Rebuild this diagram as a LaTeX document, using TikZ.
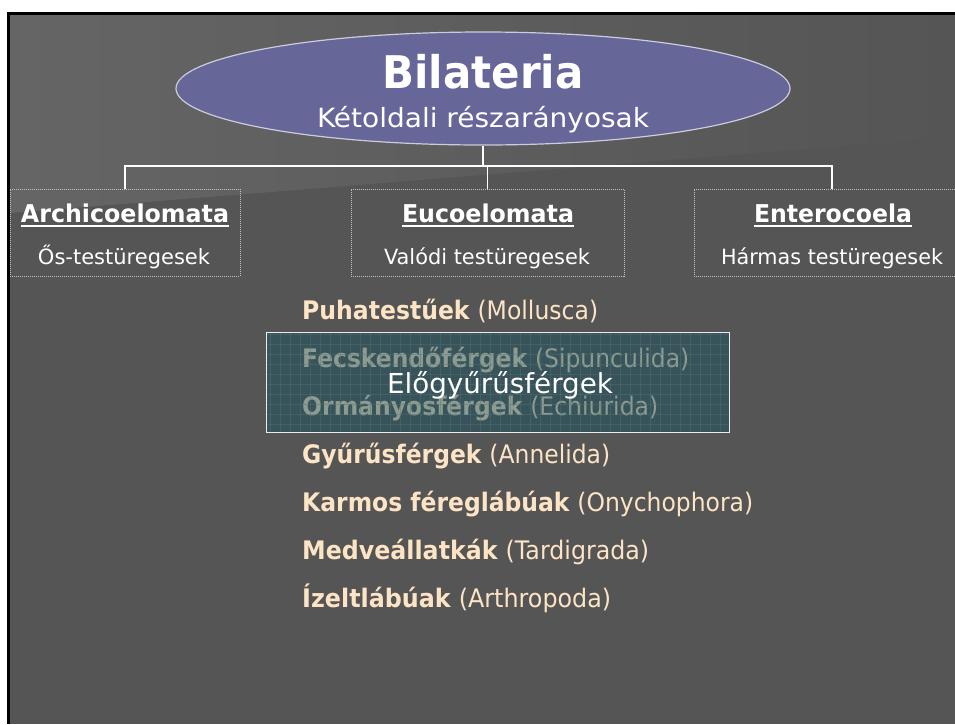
\documentclass[tikz,border=0pt]{standalone}
\usepackage{graphicx}
\usepackage{fontspec}
\setmainfont{DejaVu Sans}
\usetikzlibrary{shapes.geometric,patterns.meta}
\definecolor{bgc}{HTML}{555555}
\definecolor{wedge}{HTML}{656565}
\definecolor{ellfill}{HTML}{666699}
\definecolor{ellline}{HTML}{CCCCDD}
\definecolor{dotc}{HTML}{C4C4C4}
\definecolor{peach}{RGB}{252,228,196}
\definecolor{teal}{RGB}{31,83,95}
\definecolor{gridc}{RGB}{80,118,124}
\newcommand\fitw[2]{\resizebox{#1pt}{\height}{#2}}
\newcommand\myul[1]{\setbox0\hbox{#1}\rlap{\rule[-4.5pt]{\wd0}{2pt}}\box0}
\tikzset{
  conn/.style={draw=white,line width=1.3pt},
  grpbox/.style={draw=dotc,line width=0.9pt,dash pattern=on 1pt off 1pt,rectangle,minimum height=87pt,inner sep=0pt},
  txt/.style={inner sep=0pt,text=white},
  item/.style={inner sep=0pt,anchor=base west,text=peach,font=\fontsize{25.5}{25.5}\selectfont},
}
\begin{document}
\begin{tikzpicture}[x=1pt,y=-1pt]
\useasboundingbox (0,0) rectangle (955,724);
\fill[white] (0,0) rectangle (955,724);
\fill[bgc] (10,15) rectangle (955,724);
\shade[left color=wedge,right color=bgc] (10,15) -- (955,15) -- (955,137) -- (10,213) -- cycle;
\draw[black,line width=3pt] (8.5,724) -- (8.5,13.5) -- (955,13.5);
% ellipse
\node[ellipse,draw=ellline,fill=ellfill,line width=1.2pt,minimum width=614pt,minimum height=113pt,inner sep=0pt] (bil) at (483,88.5) {};
\node[txt,anchor=base,font=\fontsize{45}{45}\selectfont\bfseries] (biltitle) at (483,88.3) {\fitw{201}{Bilateria}};
\node[txt,anchor=base,font=\fontsize{26.5}{26.5}\selectfont] (bilsub) at (483,127.5) {\fitw{332}{Kétoldali részarányosak}};
% group boxes
\node[grpbox,minimum width=230pt] (b1) at (125,232.5) {};
\node[grpbox,minimum width=273pt] (b2) at (487.5,232.5) {};
\node[grpbox,minimum width=276pt] (b3) at (832,232.5) {};
\coordinate (j) at (483,166);
\draw[conn] (bil.south) -- (j);
\draw[conn] (b1.north) |- (j) -| (b3.north);
\draw[conn] (b2.north) -- (b2.north |- j);
% box texts
\node[txt,anchor=base,font=\fontsize{24.5}{24.5}\selectfont\bfseries] (t1) at (125,222) {\fitw{208}{\myul{Archicoelomata}}};
\node[txt,anchor=base,font=\fontsize{21}{21}\selectfont] (s1) at (124,264) {\fitw{172}{Ős-testüregesek}};
\node[txt,anchor=base,font=\fontsize{24.5}{24.5}\selectfont\bfseries] (t2) at (488,222) {\fitw{172}{\myul{Eucoelomata}}};
\node[txt,anchor=base,font=\fontsize{21}{21}\selectfont] (s2) at (487,264) {\fitw{206}{Valódi testüregesek}};
\node[txt,anchor=base,font=\fontsize{24.5}{24.5}\selectfont\bfseries] (t3) at (833,222) {\fitw{158}{\myul{Enterocoela}}};
\node[txt,anchor=base,font=\fontsize{21}{21}\selectfont] (s3) at (832,264) {\fitw{222}{Hármas testüregesek}};
% list
\node[item] (i1) at (302,319) {\fitw{296}{\textbf{Puhatestűek} (Mollusca)}};
\node[item] (i2) at (302,367) {\fitw{387}{\textbf{Fecskendőférgek} (Sipunculida)}};
\node[item] (i3) at (302,415) {\fitw{356}{\textbf{Ormányosférgek} (Echiurida)}};
\node[item] (i4) at (302,463) {\fitw{308}{\textbf{Gyűrűsférgek} (Annelida)}};
\node[item] (i5) at (302,511) {\fitw{451}{\textbf{Karmos féreglábúak} (Onychophora)}};
\node[item] (i6) at (302,559) {\fitw{347}{\textbf{Medveállatkák} (Tardigrada)}};
\node[item] (i7) at (302,607) {\fitw{309}{\textbf{Ízeltlábúak} (Arthropoda)}};
% overlay box
\node[rectangle,fill=teal,fill opacity=0.5,minimum width=462pt,minimum height=99pt,inner sep=0pt] (ov) at (498,382.5) {};
\fill[pattern={Lines[angle=0,distance=10pt,line width=0.5pt]},pattern color=gridc,opacity=0.4] (ov.south west) rectangle (ov.north east);
\fill[pattern={Lines[angle=90,distance=10pt,line width=0.5pt]},pattern color=gridc,opacity=0.4] (ov.south west) rectangle (ov.north east);
\draw[draw=white!85!gray,line width=1.2pt] (ov.south west) rectangle (ov.north east);
\node[txt,anchor=base,font=\fontsize{27.5}{27.5}\selectfont] (ovt) at (500,393.3) {\fitw{226}{Előgyűrűsférgek}};
\end{tikzpicture}
\end{document}
